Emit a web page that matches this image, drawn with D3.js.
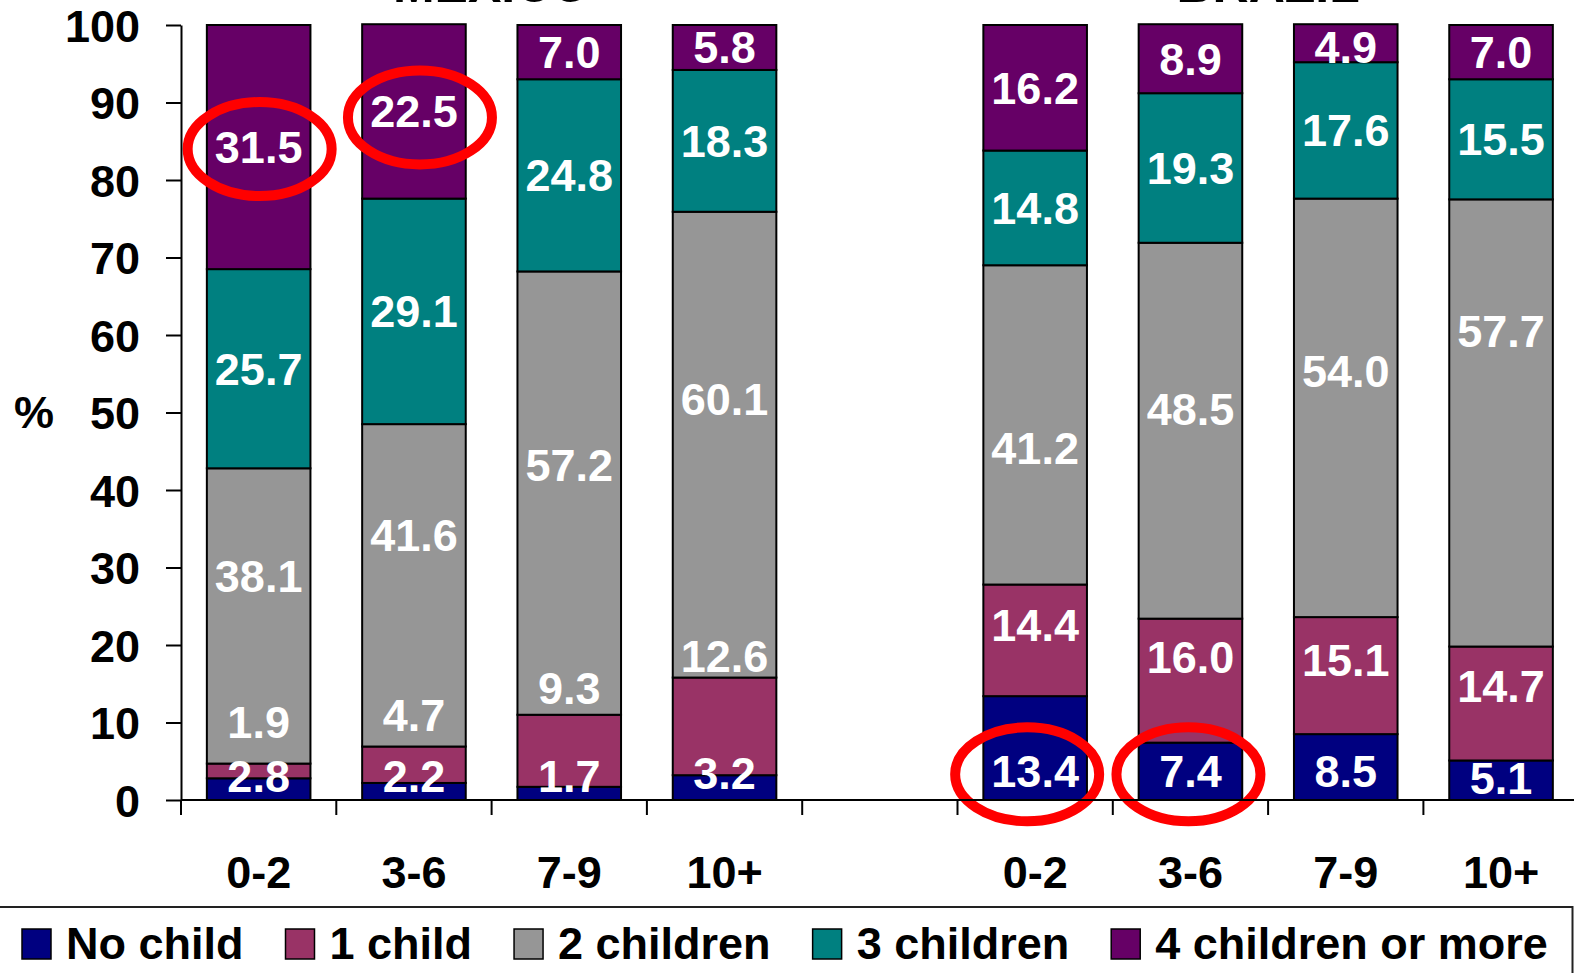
<!DOCTYPE html>
<html>
<head>
<meta charset="utf-8">
<script src="https://cdn.jsdelivr.net/npm/d3@7/dist/d3.min.js"></script>
<style>
  html, body { margin: 0; padding: 0; background: #fff; overflow: hidden; }
  svg { display: block; }
  text { font-family: "Liberation Sans", Arial, sans-serif; font-weight: bold; }
</style>
</head>
<body>
<svg id="chart" width="1574" height="973"></svg>
<script>
// Countries and the age bands of the youngest child
const countries = ["MEXICO", "BRAZIL"];
const ageBands = ["0-2", "3-6", "7-9", "10+"];
const seriesNames = ["No child", "1 child", "2 children", "3 children", "4 children or more"];
const seriesColors = ["#000080", "#993366", "#969696", "#008080", "#660066"];
const yTicks = [0, 10, 20, 30, 40, 50, 60, 70, 80, 90, 100];

// Shares (%) per bar: Mexico 0-2, 3-6, 7-9, 10+, then Brazil 0-2, 3-6, 7-9, 10+
const noChild       = [2.8, 2.2, 1.7, 3.2, 13.4, 7.4, 8.5, 5.1];
const oneChild      = [1.9, 4.7, 9.3, 12.6, 14.4, 16.0, 15.1, 14.7];
const twoChildren   = [38.1, 41.6, 57.2, 60.1, 41.2, 48.5, 54.0, 57.7];
const threeChildren = [25.7, 29.1, 24.8, 18.3, 14.8, 19.3, 17.6, 15.5];
const fourPlus      = [31.5, 22.5, 7.0, 5.8, 16.2, 8.9, 4.9, 7.0];

// Manual label nudges in percentage points (labels moved off thin segments)
const nudgeNoChild  = [1.7, 2.0, 2.25, 1.9, -3.0, 0, -0.55, 0.25];
const nudgeOneChild = [6.35, 6.45, 8.05, 9.1, 2.0, 3.0, 2.05, 2.3];
const nudgeTwo      = [5.15, 6.5, 3.6, 5.85, -3.0, 2.85, 4.7, 11.85];
const nudgeThree    = [0, 0, 0, 0, 0, 0, 0, 0];
const nudgeFour     = [0, 0, 0, 0, 0, 0, -0.5, 0];

// Values circled for emphasis: [bar index, series index, ring shift x, ring shift y]
const highlighted = [[0, 4, 1, 2], [1, 4, 6, 6], [4, 0, -8, 3], [5, 0, -2, 3]];

const series = [noChild, oneChild, twoChildren, threeChildren, fourPlus];
const nudges = [nudgeNoChild, nudgeOneChild, nudgeTwo, nudgeThree, nudgeFour];

const FS = 45;
const svg = d3.select("#chart");

// One empty slot separates the two countries
const slots = [];
countries.forEach((c, ci) => {
  ageBands.forEach(a => slots.push(c + "|" + a));
  if (ci < countries.length - 1) slots.push("gap");
});
const barKeys = slots.filter(s => s !== "gap");

const x = d3.scaleBand().domain(slots).range([181, 181 + 9 * 155.3]).padding(0);
const y = d3.scaleLinear().domain([0, 100]).range([800, 25]);
const barW = x.bandwidth() * 0.667;

// Stack the series per bar
const rows = barKeys.map((k, i) => {
  const r = { key: k };
  seriesNames.forEach((s, si) => r[s] = series[si][i]);
  return r;
});
const stacked = d3.stack().keys(seriesNames)(rows);

// Bars
const gBars = svg.append("g");
stacked.forEach((layer, si) => {
  gBars.selectAll(null)
    .data(layer)
    .enter().append("rect")
    .attr("x", d => x(d.data.key) + (x.bandwidth() - barW) / 2)
    .attr("y", d => y(d[1]))
    .attr("width", barW)
    .attr("height", d => y(d[0]) - y(d[1]))
    .attr("fill", seriesColors[si])
    .attr("stroke", "#000")
    .attr("stroke-width", 2);
});

// Value labels
const labelPos = (bi, si) => {
  const seg = stacked[si][bi];
  const mid = (seg[0] + seg[1]) / 2 + nudges[si][bi];
  return { cx: x(barKeys[bi]) + x.bandwidth() / 2, cy: y(mid) };
};
const gLabels = svg.append("g");
stacked.forEach((layer, si) => {
  layer.forEach((d, bi) => {
    const p = labelPos(bi, si);
    gLabels.append("text")
      .attr("x", p.cx)
      .attr("y", p.cy + 16)
      .attr("text-anchor", "middle")
      .attr("font-size", FS)
      .attr("fill", "#fff")
      .text(d3.format(".1f")(series[si][bi]));
  });
});

// Red emphasis rings
highlighted.forEach(([bi, si, dx, dy]) => {
  const p = labelPos(bi, si);
  svg.append("ellipse")
    .attr("cx", p.cx + dx)
    .attr("cy", p.cy + dy)
    .attr("rx", 72)
    .attr("ry", 47)
    .attr("fill", "none")
    .attr("stroke", "#ff0000")
    .attr("stroke-width", 10);
});

// Y axis
const yAxis = d3.axisLeft(y).tickValues(yTicks).tickSize(15).tickSizeOuter(0).tickPadding(26);
const gy = svg.append("g").attr("transform", "translate(181,0)").call(yAxis);
gy.select(".domain").attr("stroke", "#000").attr("stroke-width", 2);
gy.selectAll(".tick line").attr("stroke", "#000").attr("stroke-width", 2);
gy.selectAll(".tick text")
  .attr("font-size", FS).attr("fill", "#000")
  .attr("font-family", "Liberation Sans, Arial, sans-serif").attr("font-weight", "bold")
  .attr("dy", "0.36em");

svg.append("text")
  .attr("x", 14).attr("y", 428)
  .attr("font-size", FS).attr("fill", "#000")
  .text("%");

// X axis: baseline with tick marks at slot boundaries
const gx = svg.append("g");
gx.append("line")
  .attr("x1", 181).attr("x2", 1574)
  .attr("y1", y(0)).attr("y2", y(0))
  .attr("stroke", "#000").attr("stroke-width", 2);
const bounds = slots.map(s => x(s)).concat([x.range()[1]]);
gx.selectAll(null).data(bounds).enter().append("line")
  .attr("x1", d => d).attr("x2", d => d)
  .attr("y1", y(0)).attr("y2", y(0) + 15)
  .attr("stroke", "#000").attr("stroke-width", 2);
gx.selectAll(null).data(barKeys).enter().append("text")
  .attr("x", d => x(d) + x.bandwidth() / 2)
  .attr("y", 888)
  .attr("text-anchor", "middle")
  .attr("font-size", FS).attr("fill", "#000")
  .text(d => d.split("|")[1]);

// Country titles, sitting above the top edge
countries.forEach(c => {
  const keys = barKeys.filter(k => k.startsWith(c + "|"));
  const cx = (x(keys[0]) + x(keys[keys.length - 1]) + x.bandwidth()) / 2;
  svg.append("text")
    .attr("x", cx).attr("y", 2)
    .attr("text-anchor", "middle")
    .attr("font-size", 50).attr("fill", "#000")
    .text(c);
});

// Legend
const gLeg = svg.append("g");
gLeg.append("rect")
  .attr("x", -2).attr("y", 907)
  .attr("width", 1574.5).attr("height", 80)
  .attr("fill", "#fff").attr("stroke", "#222").attr("stroke-width", 2);
let lx = 22;
seriesNames.forEach((s, si) => {
  gLeg.append("rect")
    .attr("x", lx).attr("y", 929)
    .attr("width", 29).attr("height", 30)
    .attr("fill", seriesColors[si])
    .attr("stroke", "#000").attr("stroke-width", 1.5);
  const t = gLeg.append("text")
    .attr("x", lx + 44).attr("y", 959)
    .attr("font-size", FS).attr("fill", "#000")
    .text(s);
  lx = lx + 44 + t.node().getComputedTextLength() + 42;
});
</script>
</body>
</html>
